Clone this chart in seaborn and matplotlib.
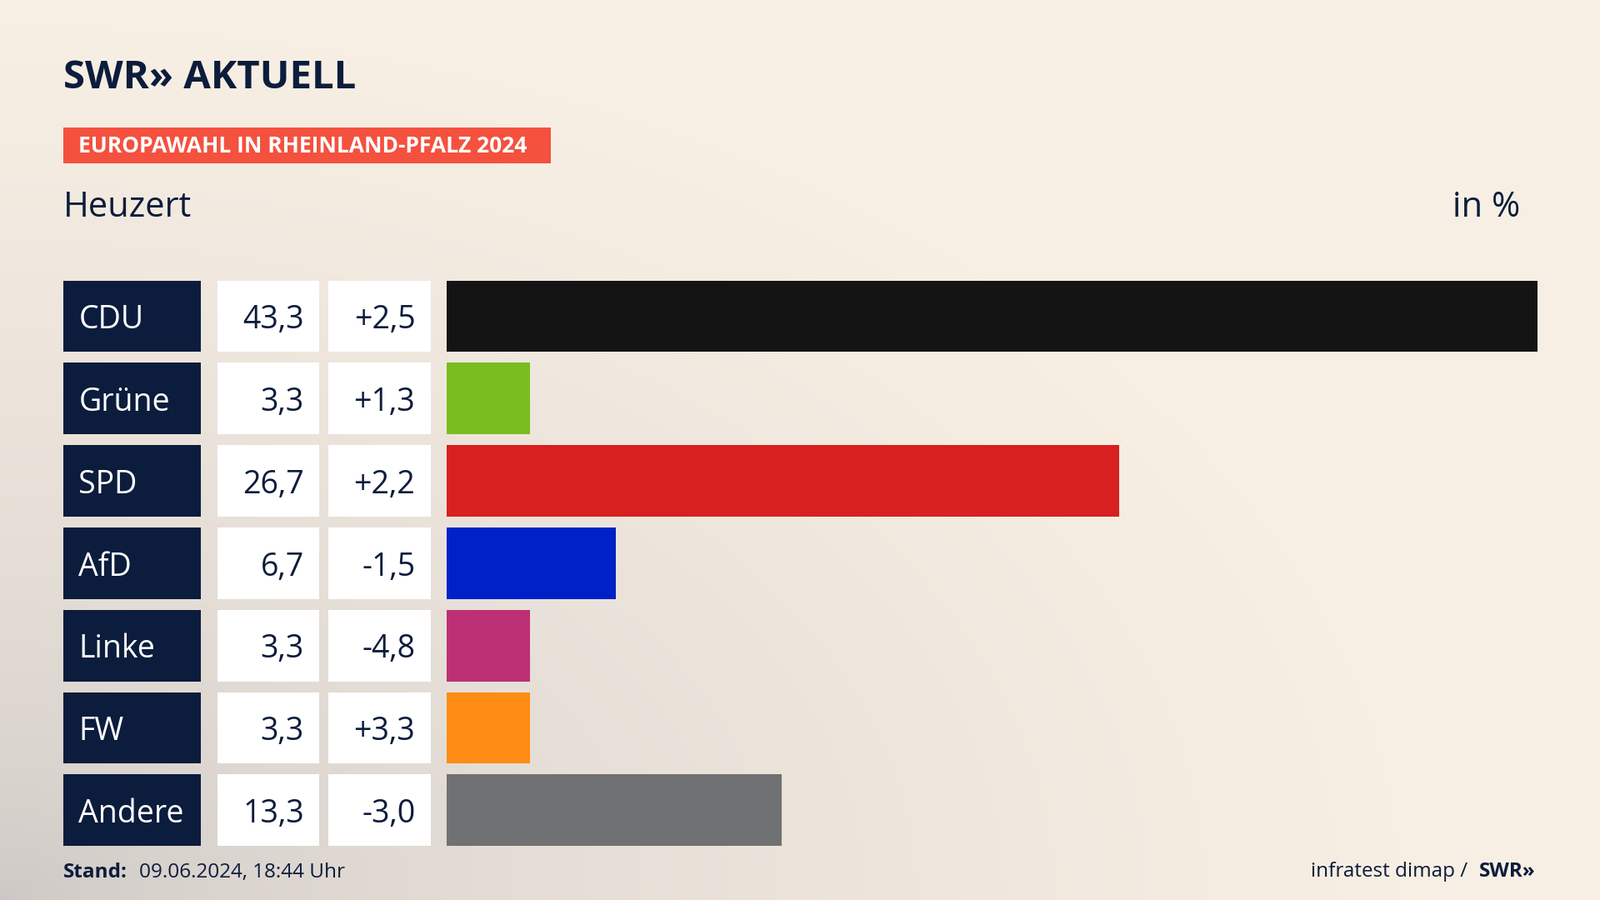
import numpy as np
import pandas as pd
import matplotlib
matplotlib.use("Agg")
import matplotlib.pyplot as plt
import matplotlib.transforms as mtrans
from matplotlib.patches import Rectangle
import seaborn as sns

parties = ["CDU", "Grüne", "SPD", "AfD", "Linke", "FW", "Andere"]
values = [43.3, 3.3, 26.7, 6.7, 3.3, 3.3, 13.3]
diffs = ["+2,5", "+1,3", "+2,2", "-1,5", "-4,8", "+3,3", "-3,0"]
colors = ["#141414", "#7abd1e", "#d72020", "#0021c8", "#be3075", "#ff8c14", "#707172"]

plt.rcParams["font.family"] = "Open Sans"
W, H = 1568, 882
fig = plt.figure(figsize=(19.2, 10.8), dpi=100)

bg = fig.add_axes([0, 0, 1, 1]); bg.set_axis_off()
xx, yy = np.meshgrid(np.linspace(0, 1, 400), np.linspace(0, 1, 225))
d = np.clip(np.sqrt(((xx) / 0.9) ** 2 + ((yy) / 1.0) ** 2), 0, 1)
c1 = np.array([0.80, 0.78, 0.77]); c2 = np.array([0.975, 0.94, 0.895])
t = np.clip(d, 0, 1) ** 0.6
img = c1[None, None, :] * (1 - t[..., None]) + c2[None, None, :] * t[..., None]
bg.imshow(img, origin="lower", extent=[0, 1, 0, 1], aspect="auto")
bg.set_xlim(0, 1); bg.set_ylim(0, 1)

def fx(px): return px / W
def fy(py): return 1 - py / H

ax = fig.add_axes([fx(438), fy(834.4), fx(1507) - fx(438), (834.4 - 269.6) / H])
df = pd.DataFrame({"party": parties, "value": values})
sns.barplot(data=df, x="value", y="party", hue="party", palette=colors, legend=False,
            width=0.87, saturation=1, ax=ax, orient="h")
ax.set_xlim(0, 43.3)
ax.set_axis_off()
ax.patch.set_alpha(0)

tr = mtrans.blended_transform_factory(ax.transAxes, ax.transData)
aw = 1069.0
for i, (p, v, dd) in enumerate(zip(parties, values, diffs)):
    for x0, w, fc in [(62, 135, "#0c1c3c"), (213, 100, "white"), (322, 100, "white")]:
        ax.add_patch(Rectangle(((x0 - 438) / aw, i - 0.435), w / aw, 0.87, transform=tr,
                               facecolor=fc, edgecolor="none", clip_on=False))
    kw = dict(transform=tr, fontsize=27, va="center_baseline")
    ax.text((77 - 438) / aw, i, p, color="white", ha="left", **kw)
    ax.text((298 - 438) / aw, i, f"{v:.1f}".replace(".", ","), color="#0c1c3c", ha="right", **kw)
    ax.text((407 - 438) / aw, i, dd, color="#0c1c3c", ha="right", **kw)

navy = "#0c1c3c"
fig.text(fx(62), fy(76), "SWR» AKTUELL", fontsize=34, fontweight="bold", color=navy, va="center")
fig.add_artist(Rectangle((fx(62), fy(160)), fx(540) - fx(62), (160 - 125) / H,
                         transform=fig.transFigure, facecolor="#f4513f", edgecolor="none"))
fig.text(fx(77), fy(143), "EUROPAWAHL IN RHEINLAND-PFALZ 2024", fontsize=19, fontweight="bold",
         color="white", va="center")
fig.text(fx(62), fy(203), "Heuzert", fontsize=30, color=navy, va="center")
fig.text(fx(1490), fy(203), "in %", fontsize=30, color=navy, va="center", ha="right")
fig.text(fx(62), fy(855), "Stand:", fontsize=17.5, fontweight="bold", color=navy, va="center")
fig.text(fx(136), fy(855), "09.06.2024, 18:44 Uhr", fontsize=17.5, color=navy, va="center")
fig.text(fx(1438), fy(854), "infratest dimap /", fontsize=17.5, color=navy, va="center", ha="right")
fig.text(fx(1505), fy(854), "SWR»", fontsize=17.5, fontweight="bold", color=navy, va="center", ha="right")

fig.savefig("out.png", dpi=100)
